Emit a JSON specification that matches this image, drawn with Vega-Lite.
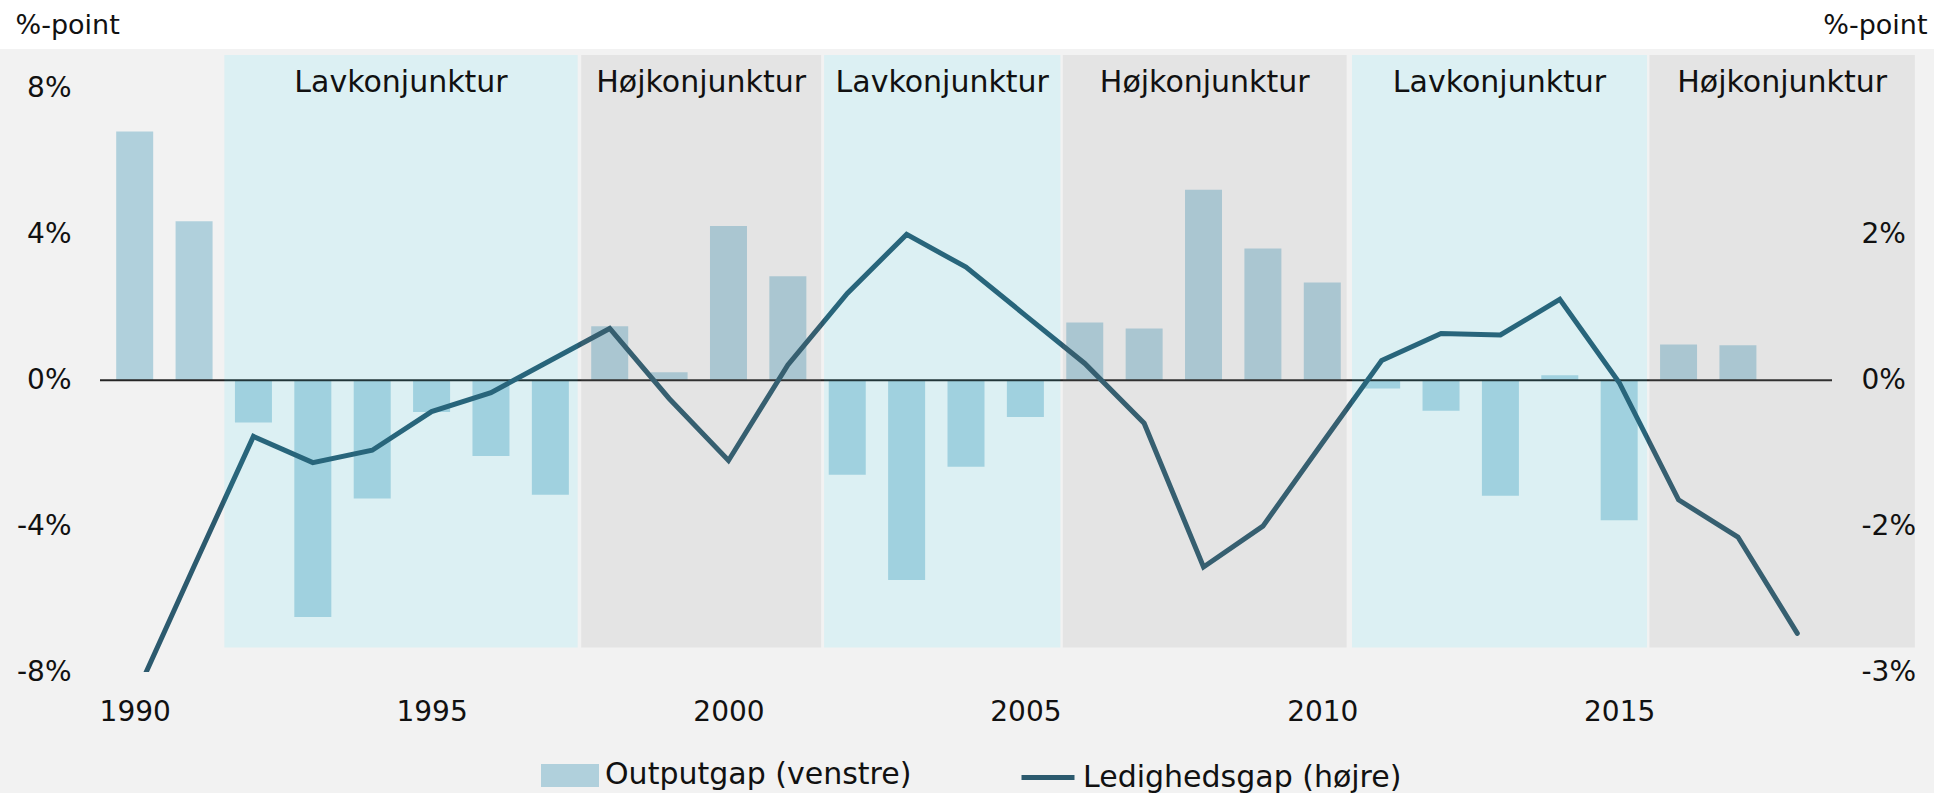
{
  "$schema": "https://vega.github.io/schema/vega-lite/v6.json",
  "width": 1732,
  "height": 620,
  "autosize": {"type": "none"},
  "padding": {"left": 100, "top": 52, "right": 102, "bottom": 121},
  "background": "#ffffff",
  "config": {
    "view": {"stroke": null},
    "font": "DejaVu Sans",
    "axis": {"grid": false, "ticks": false, "domain": false, "labelFont": "DejaVu Sans", "labelFontSize": 28, "labelColor": "#111111", "titleFont": "DejaVu Sans", "titleFontSize": 27, "titleFontWeight": "normal", "titleColor": "#111111"},
    "legend": {"labelFont": "DejaVu Sans"}
  },
  "datasets": {
    "series": [
      {"year": 1990, "output": 6.82, "ledighed": -4.35},
      {"year": 1991, "output": 4.36, "ledighed": -2.55},
      {"year": 1992, "output": -1.16, "ledighed": -0.77},
      {"year": 1993, "output": -6.49, "ledighed": -1.13},
      {"year": 1994, "output": -3.24, "ledighed": -0.96},
      {"year": 1995, "output": -0.87, "ledighed": -0.43},
      {"year": 1996, "output": -2.08, "ledighed": -0.17},
      {"year": 1997, "output": -3.14, "ledighed": 0.27},
      {"year": 1998, "output": 1.48, "ledighed": 0.71},
      {"year": 1999, "output": 0.22, "ledighed": -0.25},
      {"year": 2000, "output": 4.23, "ledighed": -1.10},
      {"year": 2001, "output": 2.85, "ledighed": 0.21},
      {"year": 2002, "output": -2.59, "ledighed": 1.19},
      {"year": 2003, "output": -5.48, "ledighed": 2.00},
      {"year": 2004, "output": -2.37, "ledighed": 1.55},
      {"year": 2005, "output": -1.01, "ledighed": 0.89},
      {"year": 2006, "output": 1.58, "ledighed": 0.23},
      {"year": 2007, "output": 1.42, "ledighed": -0.59},
      {"year": 2008, "output": 5.22, "ledighed": -2.56},
      {"year": 2009, "output": 3.61, "ledighed": -2.00},
      {"year": 2010, "output": 2.68, "ledighed": -0.86},
      {"year": 2011, "output": -0.23, "ledighed": 0.27},
      {"year": 2012, "output": -0.84, "ledighed": 0.64},
      {"year": 2013, "output": -3.17, "ledighed": 0.62},
      {"year": 2014, "output": 0.14, "ledighed": 1.11},
      {"year": 2015, "output": -3.84, "ledighed": -0.03},
      {"year": 2016, "output": 0.98, "ledighed": -1.64},
      {"year": 2017, "output": 0.96, "ledighed": -2.15},
      {"year": 2018, "output": null, "ledighed": -3.47}
    ],
    "regions": [
      {"start": 1991.51, "end": 1997.46, "phase": "Lavkonjunktur"},
      {"start": 1997.52, "end": 2001.56, "phase": "Højkonjunktur"},
      {"start": 2001.61, "end": 2005.59, "phase": "Lavkonjunktur"},
      {"start": 2005.63, "end": 2010.41, "phase": "Højkonjunktur"},
      {"start": 2010.50, "end": 2015.47, "phase": "Lavkonjunktur"},
      {"start": 2015.51, "end": 2019.98, "phase": "Højkonjunktur"}
    ]
  },
  "layer": [
    {
      "data": {"values": [{}]},
      "mark": {"type": "rect", "color": "#f2f2f2"},
      "encoding": {
        "x": {"datum": 1987.7, "type": "quantitative", "scale": {"domain": [1989.5, 2018.5], "nice": false, "zero": false},
              "axis": {"orient": "bottom", "zindex": 2, "values": [1990, 1995, 2000, 2005, 2010, 2015], "format": "d", "title": null, "labelPadding": 26, "labelFlush": false}},
        "x2": {"datum": 2020.4},
        "y": {"datum": 9.08, "type": "quantitative", "scale": {"domain": [-8, 9], "nice": false}, "axis": null},
        "y2": {"datum": -25}
      }
    },
    {
      "data": {"name": "series"},
      "mark": {"type": "bar", "size": 37, "orient": "vertical"},
      "encoding": {
        "x": {"field": "year", "type": "quantitative", "scale": {"domain": [1989.5, 2018.5], "nice": false, "zero": false},
              "axis": {"orient": "bottom", "zindex": 2, "values": [1990, 1995, 2000, 2005, 2010, 2015], "format": "d", "title": null, "labelPadding": 26, "labelFlush": false}},
        "y": {"field": "output", "type": "quantitative", "scale": {"domain": [-8, 9], "nice": false},
              "axis": {"orient": "left", "zindex": 2, "values": [-8, -4, 0, 4, 8], "labelExpr": "datum.value + '%'", "labelPadding": 29, "title": "%-point", "titleAngle": 0, "titleAlign": "left", "titleBaseline": "middle", "titleX": -85, "titleY": -27}},
        "color": {"datum": "Outputgap (venstre)", "type": "nominal",
                  "scale": {"domain": ["Outputgap (venstre)", "Ledighedsgap (højre)"], "range": ["#b0d0dc", "#2c5a6e"]},
                  "legend": {"orient": "none", "legendX": 441, "legendY": 694, "direction": "horizontal", "title": null, "padding": 0, "labelLimit": 0,
                             "symbolType": "M-1,-0.34H1V0.34H-1Z", "symbolSize": 2809, "labelFontSize": 30, "labelColor": "#111111", "labelOffset": 6, "columnPadding": 99,
                             "encode": {"symbols": {"update": {
                               "shape": {"signal": "datum.value === 'Outputgap (venstre)' ? 'M-1,-0.34H1V0.34H-1Z' : 'M-1,0H1'"},
                               "fill": {"signal": "datum.value === 'Outputgap (venstre)' ? '#b0d0dc' : 'transparent'"},
                               "stroke": {"signal": "datum.value === 'Outputgap (venstre)' ? 'transparent' : '#2c5a6e'"},
                               "strokeWidth": {"value": 5},
                               "opacity": {"value": 1}
                             }}}}}
      }
    },
    {
      "data": {"values": [{}]},
      "mark": {"type": "rule", "color": "#262626", "strokeWidth": 2},
      "encoding": {
        "y": {"datum": 0, "type": "quantitative", "scale": {"domain": [-8, 9], "nice": false}, "axis": null}
      }
    },
    {
      "data": {"name": "series"},
      "mark": {"type": "line", "clip": true, "strokeWidth": 5, "strokeCap": "round", "strokeJoin": "miter"},
      "encoding": {
        "x": {"field": "year", "type": "quantitative", "scale": {"domain": [1989.5, 2018.5], "nice": false, "zero": false},
              "axis": {"orient": "bottom", "zindex": 2, "values": [1990, 1995, 2000, 2005, 2010, 2015], "format": "d", "title": null, "labelPadding": 26, "labelFlush": false}},
        "y": {"field": "ledighed", "type": "quantitative", "scale": {"domain": [-4, 4.5], "nice": false, "zero": false},
              "axis": {"orient": "right", "zindex": 2, "values": [-4, -2, 0, 2], "labelExpr": "datum.value == -4 ? '-3%' : datum.value + '%'", "labelPadding": 29, "title": "%-point", "titleAngle": 0, "titleAlign": "right", "titleBaseline": "middle", "titleX": 95, "titleY": -27}},
        "color": {"datum": "Ledighedsgap (højre)", "type": "nominal",
                  "scale": {"domain": ["Outputgap (venstre)", "Ledighedsgap (højre)"], "range": ["#b0d0dc", "#2c5a6e"]},
                  "legend": {"orient": "none", "legendX": 441, "legendY": 694, "direction": "horizontal", "title": null, "padding": 0, "labelLimit": 0,
                             "symbolType": "M-1,-0.34H1V0.34H-1Z", "symbolSize": 2809, "labelFontSize": 30, "labelColor": "#111111", "labelOffset": 6, "columnPadding": 99,
                             "encode": {"symbols": {"update": {
                               "shape": {"signal": "datum.value === 'Outputgap (venstre)' ? 'M-1,-0.34H1V0.34H-1Z' : 'M-1,0H1'"},
                               "fill": {"signal": "datum.value === 'Outputgap (venstre)' ? '#b0d0dc' : 'transparent'"},
                               "stroke": {"signal": "datum.value === 'Outputgap (venstre)' ? 'transparent' : '#2c5a6e'"},
                               "strokeWidth": {"value": 5},
                               "opacity": {"value": 1}
                             }}}}}
      }
    },
    {
      "data": {"name": "regions"},
      "transform": [{"filter": "datum.phase == 'Lavkonjunktur'"}],
      "mark": {"type": "rect", "color": "#00dcfd", "opacity": 0.09},
      "encoding": {
        "x": {"field": "start", "type": "quantitative", "scale": {"domain": [1989.5, 2018.5], "nice": false, "zero": false},
              "axis": {"orient": "bottom", "zindex": 2, "values": [1990, 1995, 2000, 2005, 2010, 2015], "format": "d", "title": null, "labelPadding": 26, "labelFlush": false}},
        "x2": {"field": "end"},
        "y": {"datum": 8.92, "type": "quantitative", "scale": {"domain": [-8, 9], "nice": false}, "axis": null},
        "y2": {"datum": -7.33}
      }
    },
    {
      "data": {"name": "regions"},
      "transform": [{"filter": "datum.phase == 'Højkonjunktur'"}],
      "mark": {"type": "rect", "color": "#858585", "opacity": 0.12},
      "encoding": {
        "x": {"field": "start", "type": "quantitative", "scale": {"domain": [1989.5, 2018.5], "nice": false, "zero": false},
              "axis": {"orient": "bottom", "zindex": 2, "values": [1990, 1995, 2000, 2005, 2010, 2015], "format": "d", "title": null, "labelPadding": 26, "labelFlush": false}},
        "x2": {"field": "end"},
        "y": {"datum": 8.92, "type": "quantitative", "scale": {"domain": [-8, 9], "nice": false}, "axis": null},
        "y2": {"datum": -7.33}
      }
    },
    {
      "data": {"name": "regions"},
      "transform": [{"calculate": "(datum.start + datum.end) / 2", "as": "mid"}],
      "mark": {"type": "text", "fontSize": 30, "color": "#111111", "baseline": "alphabetic", "align": "center", "font": "DejaVu Sans"},
      "encoding": {
        "x": {"field": "mid", "type": "quantitative", "scale": {"domain": [1989.5, 2018.5], "nice": false, "zero": false},
              "axis": {"orient": "bottom", "zindex": 2, "values": [1990, 1995, 2000, 2005, 2010, 2015], "format": "d", "title": null, "labelPadding": 26, "labelFlush": false}},
        "y": {"datum": 7.9, "type": "quantitative", "scale": {"domain": [-8, 9], "nice": false}, "axis": null},
        "text": {"field": "phase"}
      }
    }
  ],
  "resolve": {"scale": {"y": "independent"}}
}
